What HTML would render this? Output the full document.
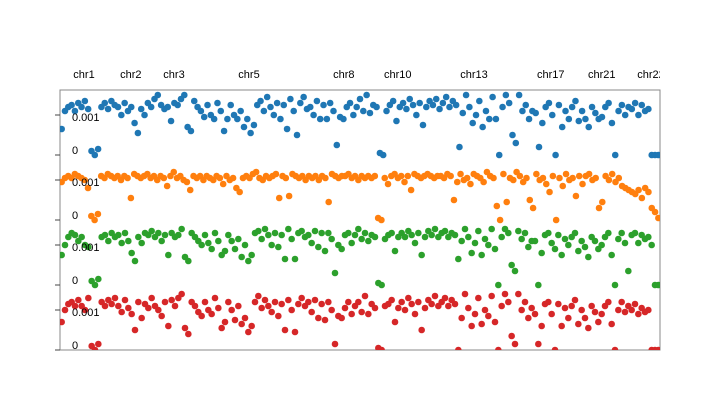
<!DOCTYPE html>
<html><head><meta charset="utf-8"><style>
html,body{margin:0;padding:0;background:#fff;}
svg{display:block;font-family:"Liberation Sans",Arial,sans-serif;}
</style></head><body>
<svg id="chart" width="720" height="410">
<defs><clipPath id="pc"><rect x="60" y="90" width="600" height="260"/></clipPath>
<clipPath id="lc"><rect x="0" y="0" width="660" height="90"/></clipPath></defs>
<g id="chrLabels" clip-path="url(#lc)"></g>
<rect x="60" y="90" width="600" height="260" fill="none" stroke="#888" stroke-width="1"/>
<g id="pts" clip-path="url(#pc)"></g>
<g id="ticks"></g>
</svg>
<script>
const chrNames=["chr1","chr2","chr3","chr5","chr8","chr10","chr13","chr17","chr21","chr22"];
const chrCenters=[0.04,0.118,0.19,0.315,0.473,0.563,0.69,0.818,0.903,0.985];
const tickValues=[0,1];
const tickLabels=["0","0.001"];
const colors=["#1f77b4","#ff7f0e","#2ca02c","#d62728"];
const blue=[0.65,1.1,1.2,1.25,1.1,1.3,1.2,1.35,1.15,0.1,0.0,0.15,1.2,1.3,1.15,1.35,1.25,1.2,1.0,1.3,1.1,1.2,0.8,0.55,1.15,1.0,1.3,1.2,1.4,1.5,1.25,1.15,1.2,0.85,1.3,1.25,1.4,1.5,0.7,0.6,1.35,1.2,1.1,0.95,1.25,1.0,0.9,1.3,1.1,0.6,0.9,1.25,1.0,0.9,1.1,0.7,0.9,0.55,0.75,1.25,1.35,1.1,1.45,1.2,1.0,1.3,0.9,1.25,0.65,1.4,1.1,0.5,1.3,1.45,1.15,1.2,1.0,1.35,0.9,1.25,0.9,1.3,1.1,0.25,0.95,0.9,1.2,1.3,1.0,1.2,1.4,1.1,1.5,1.05,1.25,1.2,0.05,0.0,1.1,1.25,1.35,0.85,1.2,1.3,1.15,1.4,1.25,1.0,1.3,0.75,1.2,1.35,1.25,1.4,1.15,1.3,1.45,1.2,1.35,1.25,0.2,1.05,1.5,1.2,0.8,1.0,1.35,0.7,1.1,0.9,1.45,0.9,0.0,1.2,1.5,1.3,0.5,0.3,1.5,1.1,1.25,0.9,1.1,1.05,0.2,0.8,1.2,1.3,1.0,0.0,1.25,0.7,1.1,0.9,1.2,1.35,0.85,1.1,0.9,0.7,1.2,1.05,0.9,0.95,1.2,1.3,0.8,0.0,1.1,1.25,1.0,1.2,1.15,1.3,1.0,1.25,1.1,1.15,0.0,0.0,0.0];
const orange=[0.95,1.05,1.1,1.05,1.15,1.1,1.05,1.0,0.8,0.1,0.0,0.15,1.1,1.05,1.15,1.1,1.05,1.1,1.0,1.1,1.05,0.55,1.15,1.1,1.05,1.1,1.15,1.05,1.1,1.0,1.1,1.05,0.85,1.1,1.2,1.05,1.1,1.0,0.95,0.75,1.1,1.05,1.1,1.0,1.1,1.05,1.0,1.1,1.05,0.9,1.1,1.0,1.05,0.8,0.7,1.05,1.1,1.05,1.15,1.2,1.05,1.0,1.1,1.05,1.1,1.15,0.55,1.1,1.05,0.6,1.15,1.1,1.05,1.1,1.0,1.1,1.05,1.1,1.0,1.1,1.05,0.45,1.15,1.1,1.05,1.1,1.1,1.15,1.05,1.1,1.0,1.1,1.05,1.1,1.05,1.1,0.05,0.0,1.05,0.9,1.1,1.15,1.05,1.1,0.95,1.1,0.75,1.15,1.1,1.05,1.1,1.15,1.1,1.05,1.1,1.1,1.05,1.15,1.1,0.5,0.95,1.15,1.0,1.05,0.9,1.15,1.1,1.05,0.95,1.2,1.1,1.05,0.35,0.0,1.15,0.45,1.05,1.0,1.2,1.1,0.95,1.05,0.5,0.3,1.15,1.0,1.05,0.9,0.7,1.1,0.0,1.05,0.85,1.15,1.0,1.05,0.6,1.1,0.9,1.1,1.15,1.0,1.05,0.3,0.45,1.1,1.0,1.15,0.95,1.05,0.85,0.8,0.75,0.7,0.65,0.75,0.55,0.8,0.7,0.3,0.2,0.05];
const green=[0.75,1.0,1.2,1.3,1.25,1.1,1.2,1.0,0.95,0.1,0.0,0.15,1.2,1.25,1.1,1.3,1.2,1.25,1.05,1.3,1.1,0.8,0.6,1.2,1.05,1.3,1.25,1.35,1.2,1.3,1.1,1.25,0.75,1.3,1.2,1.25,1.4,0.7,0.6,1.3,1.2,1.1,1.0,1.25,1.05,0.9,1.3,1.1,0.75,0.85,1.25,1.1,0.9,1.15,0.7,1.0,0.6,0.75,1.3,1.35,1.15,1.4,1.25,1.0,1.3,0.95,1.25,0.65,1.4,1.15,0.65,1.3,1.35,1.2,1.25,1.05,1.35,0.95,1.3,0.85,1.3,1.15,0.3,1.0,0.9,1.25,1.3,1.05,1.25,1.4,1.15,1.3,1.1,1.25,1.2,0.05,0.0,1.15,1.25,1.3,0.85,1.2,1.3,1.2,1.35,1.25,1.05,1.3,0.75,1.2,1.35,1.25,1.4,1.2,1.3,1.35,1.2,1.3,1.25,0.65,1.1,1.4,1.2,0.8,1.05,1.35,0.75,1.15,1.0,1.4,0.9,0.0,1.2,1.4,1.3,0.5,0.35,1.35,1.15,1.3,0.95,1.1,1.1,0.0,0.8,1.25,1.3,1.05,0.9,1.25,0.75,1.15,1.0,1.2,1.3,0.85,1.1,0.95,0.7,1.2,1.1,0.9,1.0,1.2,1.3,0.75,0.0,1.15,1.3,1.05,0.35,1.25,1.3,1.05,1.25,1.15,1.2,1.0,0.0,0.0];
const red=[0.7,1.0,1.15,1.2,1.1,1.25,1.1,1.0,1.3,0.1,0.0,0.15,1.2,1.1,1.25,1.15,1.3,1.1,0.95,1.25,1.05,0.9,0.5,1.2,0.8,1.15,1.05,1.3,1.1,1.0,0.85,1.2,0.6,1.25,1.1,1.3,1.4,0.55,0.4,1.2,1.1,0.95,0.85,1.2,1.0,0.9,1.3,1.05,0.55,0.7,1.2,1.0,0.75,1.1,0.65,0.8,0.45,0.6,1.2,1.35,1.05,1.25,1.1,0.95,1.2,0.85,1.15,0.5,1.25,1.0,0.45,1.15,1.3,1.1,1.2,0.95,1.25,0.8,1.15,0.75,1.2,1.0,0.15,0.85,0.8,1.05,1.2,0.9,1.1,1.2,0.95,1.35,0.9,1.15,1.05,0.05,0.0,1.1,1.15,1.25,0.7,1.05,1.2,1.0,1.3,1.15,0.9,1.2,0.5,1.05,1.25,1.15,1.35,1.1,1.2,1.3,1.1,1.25,1.15,0.0,0.8,1.4,1.05,0.6,0.9,1.3,0.65,1.0,0.85,1.35,0.7,0.0,1.1,1.4,1.2,0.35,0.15,1.4,1.0,1.2,0.8,1.05,0.9,0.15,0.6,1.15,1.2,0.9,0.0,1.15,0.6,1.05,0.8,1.1,1.25,0.65,1.0,0.8,0.55,1.1,0.95,0.7,0.9,1.1,1.2,0.65,0.0,1.0,1.2,0.95,1.1,1.0,1.15,0.9,1.05,0.95,1.0,0.0,0.0,0.0];
const series=[blue,orange,green,red];
const NS="http://www.w3.org/2000/svg";
const X0=60,X1=660,TOP=90,TRACK=65,PX_PER_MILLI=40;
function xScale(i,n){return X0+(i+0.5)*(X1-X0)/n;}
function yScale(v,t){return TOP+TRACK*(t+1)-v*PX_PER_MILLI;}
const lab=document.getElementById('chrLabels');
chrNames.forEach((nm,i)=>{
 const t=document.createElementNS(NS,'text');
 t.setAttribute('x',X0+chrCenters[i]*(X1-X0));t.setAttribute('y',78);
 t.setAttribute('text-anchor','middle');t.setAttribute('font-size','11');
 t.textContent=nm;
 
 
 lab.appendChild(t);
});
const pg=document.getElementById('pts');
series.forEach((arr,t)=>{
 arr.forEach((v,i)=>{
  const c=document.createElementNS(NS,'circle');
  c.setAttribute('cx',xScale(i,arr.length));c.setAttribute('cy',yScale(v,t));
  c.setAttribute('r',3.3);c.setAttribute('fill',colors[t]);
  
  
  pg.appendChild(c);
 });
});
const tk=document.getElementById('ticks');
for(let t=0;t<4;t++){
 tickValues.forEach((v,j)=>{
  const y=yScale(v,t);
  const l=document.createElementNS(NS,'line');
  l.setAttribute('x1',55);l.setAttribute('x2',60);l.setAttribute('y1',y);l.setAttribute('y2',y);
  l.setAttribute('stroke','#444');
  
  
  tk.appendChild(l);
  const tx=document.createElementNS(NS,'text');
  tx.setAttribute('x',72);tx.setAttribute('y',v===0?y-1:y+6);tx.setAttribute('font-size','11');
  tx.textContent=tickLabels[j];
  
  
  tk.appendChild(tx);
 });
}
</script>
</body></html>
